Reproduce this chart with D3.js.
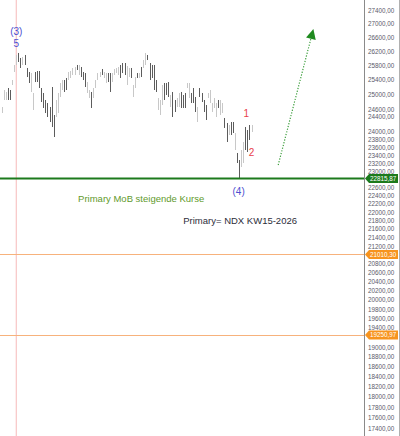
<!DOCTYPE html>
<html>
<head>
<meta charset="utf-8">
<script src="https://cdn.jsdelivr.net/npm/d3@7"></script>
<style>
body { margin: 0; background: #fff; }
svg { display: block; font-family: "Liberation Sans", Arial, sans-serif; }
</style>
</head>
<body>
<div id="chart"></div>
<script>

// weekly bars (high / low / up-or-down)
var highs = [24660,25119,25065,25174,25119,25393,25811,26093,26150,26008,26036,26093,25727,25615,25587,25038,25615,25643,25643,25174,
             25038,24848,24767,24660,25201,24446,24848,25038,25311,25393,25393,25449,25615,25643,25727,25755,25811,25811,25755,25615,
             25587,25338,25119,25065,25174,25393,25587,25615,25699,25615,25587,25587,25587,25587,25699,25727,25755,25811,25867,25867,
             25783,25727,25727,25256,25476,25587,25587,25755,25951,26150,26093,25867,25811,25811,25393,24902,24848,25256,25311,25311,
             25338,24983,25065,24848,24902,25038,25065,24983,25038,25311,25311,25038,25174,24929,24660,25174,25038,24848,24713,25038,
             25119,24767,24902,24767,24848,24848,24767,24367,24235,24182,24261,24261,23973,23458,23280,23534,23740,24130,24051,24182,
             24182];
var lows  = [24499,24848,24848,24848,24848,25256,25615,25811,25895,25727,25811,25811,25476,25311,25065,24579,25338,25338,25174,24794,
             24633,24499,24393,24261,24130,23869,24393,24499,24929,25119,25065,25119,25393,25449,25532,25532,25671,25532,25476,25393,
             25201,25038,24902,24633,24902,25174,25393,25476,25532,25449,25311,25338,25065,25338,25532,25587,25532,25449,25587,25532,
             25256,25476,25449,24929,25174,25449,25449,25476,25727,25811,25951,25393,25449,25119,25065,24579,24446,24713,24848,24983,
             24929,24660,24393,24526,24660,24660,24633,24633,24633,25174,24902,24767,24767,24526,24261,24929,24794,24526,24314,24902,
             24767,24526,24633,24393,24633,24446,24499,24104,23740,23921,23921,23973,23534,23204,22829,23104,23204,23534,23483,23791,
             23999];
var ups   = [1,1,1,0,0,1,1,1,0,0,1,0,0,0,1,1,0,0,0,0,
             0,0,0,0,0,0,1,1,1,1,0,0,1,1,1,1,0,1,0,0,
             0,1,1,0,1,1,1,1,0,1,1,0,0,1,1,1,1,0,0,0,
             1,1,0,1,1,0,1,0,1,1,0,0,0,0,0,1,1,1,0,0,
             0,1,0,0,1,1,0,0,0,1,1,0,0,0,1,0,0,0,0,1,
             1,1,1,1,0,1,1,0,0,1,0,0,1,0,0,1,1,0,0,0,
             1];

var yTicks = [27400,27000,26600,26200,25800,25400,25000,24600,24400,24000,23800,23600,23400,23200,23000,22600,22400,22200,22000,21800,
              21600,21400,21200,20800,20600,20400,20200,20000,19800,19600,19400,19000,18800,18600,18400,18200,18000,17800,17600,17400];

var mobLevel = 22815.87;
var orangeLevels = [21010.30, 19250.97];

// wave labels: bar index, price
var blueLabels = [
  {t: "(3)", i: 7, p: 26782},
  {t: "5", i: 7, p: 26435},
  {t: "(4)", i: 113.8, p: 22509}
];
var redLabels = [
  {t: "1", i: 117.5, p: 24473},
  {t: "2", i: 120, p: 23458}
];
var arrowFrom = {i: 132.8, p: 23154};
var arrowTo = {i: 149.7, p: 26840};
var peakBar = 7;

var W = 400, H = 436, axisX = 364;

var svg = d3.select("#chart").append("svg")
    .attr("width", W)
    .attr("height", H);

var x = d3.scaleLinear().domain([-0.8, 174]).range([0, axisX]);
var y = d3.scaleLog().domain([17400, 27400]).range([428, 10]);

var de = d3.formatLocale({decimal: ",", thousands: ".", grouping: [3], currency: ["", " €"]});
var fmt = de.format(".2f");

// pink marker at the top of wave (3)
svg.append("line")
    .attr("x1", x(peakBar)).attr("x2", x(peakBar))
    .attr("y1", 0).attr("y2", H)
    .attr("stroke", "#f6b9b9")
    .attr("stroke-width", 1);

// orange levels
svg.selectAll(".olev").data(orangeLevels).enter().append("line")
    .attr("class", "olev")
    .attr("x1", 0).attr("x2", axisX)
    .attr("y1", function(d) { return Math.round(y(d)) + 0.5; })
    .attr("y2", function(d) { return Math.round(y(d)) + 0.5; })
    .attr("stroke", "#f7b27c")
    .attr("stroke-width", 1);

// bars
var bars = d3.range(highs.length);
svg.selectAll(".bar").data(bars).enter().append("line")
    .attr("class", "bar")
    .attr("x1", function(i) { return Math.round(x(i)) + 0.5; })
    .attr("x2", function(i) { return Math.round(x(i)) + 0.5; })
    .attr("y1", function(i) { return y(highs[i]); })
    .attr("y2", function(i) { return y(lows[i]); })
    .attr("stroke", function(i) { return ups[i] ? "#c8c8c8" : "#5c5c5c"; })
    .attr("stroke-width", 1);

// green MoB line
svg.append("line")
    .attr("x1", 0).attr("x2", axisX)
    .attr("y1", y(mobLevel)).attr("y2", y(mobLevel))
    .attr("stroke", "#1c7a1c")
    .attr("stroke-width", 2);

// dotted arrow
var ax0 = x(arrowFrom.i), ay0 = y(arrowFrom.p);
var ax1 = x(arrowTo.i), ay1 = y(arrowTo.p);
var len = Math.sqrt((ax1 - ax0) * (ax1 - ax0) + (ay1 - ay0) * (ay1 - ay0));
var ux = (ax1 - ax0) / len, uy = (ay1 - ay0) / len;
var headL = 10, headW = 5;
var bx = ax1 - ux * headL, by = ay1 - uy * headL;
svg.append("line")
    .attr("x1", ax0).attr("y1", ay0)
    .attr("x2", bx).attr("y2", by)
    .attr("stroke", "#3a9d3a")
    .attr("stroke-width", 1.2)
    .attr("stroke-dasharray", "1.2,1.6");
svg.append("path")
    .attr("d", "M" + ax1 + "," + ay1 +
        "L" + (bx - uy * headW) + "," + (by + ux * headW) +
        "L" + (bx + uy * headW) + "," + (by - ux * headW) + "Z")
    .attr("fill", "#1f8a1f");

// wave labels
svg.selectAll(".blab").data(blueLabels).enter().append("text")
    .attr("class", "blab")
    .attr("x", function(d) { return x(d.i); })
    .attr("y", function(d) { return y(d.p); })
    .attr("text-anchor", "middle")
    .attr("dominant-baseline", "central")
    .attr("font-size", "10px")
    .attr("fill", "#4d4fd0")
    .text(function(d) { return d.t; });

svg.selectAll(".rlab").data(redLabels).enter().append("text")
    .attr("class", "rlab")
    .attr("x", function(d) { return x(d.i); })
    .attr("y", function(d) { return y(d.p); })
    .attr("text-anchor", "middle")
    .attr("dominant-baseline", "central")
    .attr("font-size", "10px")
    .attr("fill", "#e8404a")
    .text(function(d) { return d.t; });

// notes
svg.append("text")
    .attr("x", x(36.7)).attr("y", y(22241))
    .attr("font-size", "9.5px")
    .attr("fill", "#5f9a2c")
    .text("Primary MoB steigende Kurse");
svg.append("text")
    .attr("x", x(87.2)).attr("y", y(21717))
    .attr("font-size", "9.5px")
    .attr("fill", "#2d2d3a")
    .text("Primary= NDX KW15-2026");

// price axis on the right
svg.append("rect")
    .attr("x", axisX).attr("y", 0)
    .attr("width", W - axisX).attr("height", H)
    .attr("fill", "#fff");
svg.append("line")
    .attr("x1", axisX + 0.5).attr("x2", axisX + 0.5)
    .attr("y1", 0).attr("y2", H)
    .attr("stroke", "#8a8a8a");
svg.append("line")
    .attr("x1", W - 0.5).attr("x2", W - 0.5)
    .attr("y1", 0).attr("y2", H)
    .attr("stroke", "#b0b0b0");

svg.selectAll(".ytick").data(yTicks).enter().append("text")
    .attr("class", "ytick")
    .attr("x", 368)
    .attr("y", function(d) { return y(d); })
    .attr("dominant-baseline", "central")
    .attr("font-size", "6.3px")
    .attr("fill", "#5a5a6a")
    .text(function(d) { return fmt(d); });

// level badges
var badges = [{v: mobLevel, c: "#1c7a1c"}].concat(orangeLevels.map(function(v) { return {v: v, c: "#f7941e"}; }));
var bg = svg.selectAll(".badge").data(badges).enter().append("g")
    .attr("class", "badge")
    .attr("transform", function(d) { return "translate(" + axisX + "," + y(d.v) + ")"; });
bg.append("path")
    .attr("d", "M1,0L5,-4.5L34,-4.5L34,4.5L5,4.5Z")
    .attr("fill", function(d) { return d.c; });
bg.append("text")
    .attr("x", 6)
    .attr("y", 0)
    .attr("dominant-baseline", "central")
    .attr("font-size", "6.3px")
    .attr("fill", "#fff")
    .text(function(d) { return fmt(d.v); });

</script>
</body>
</html>
